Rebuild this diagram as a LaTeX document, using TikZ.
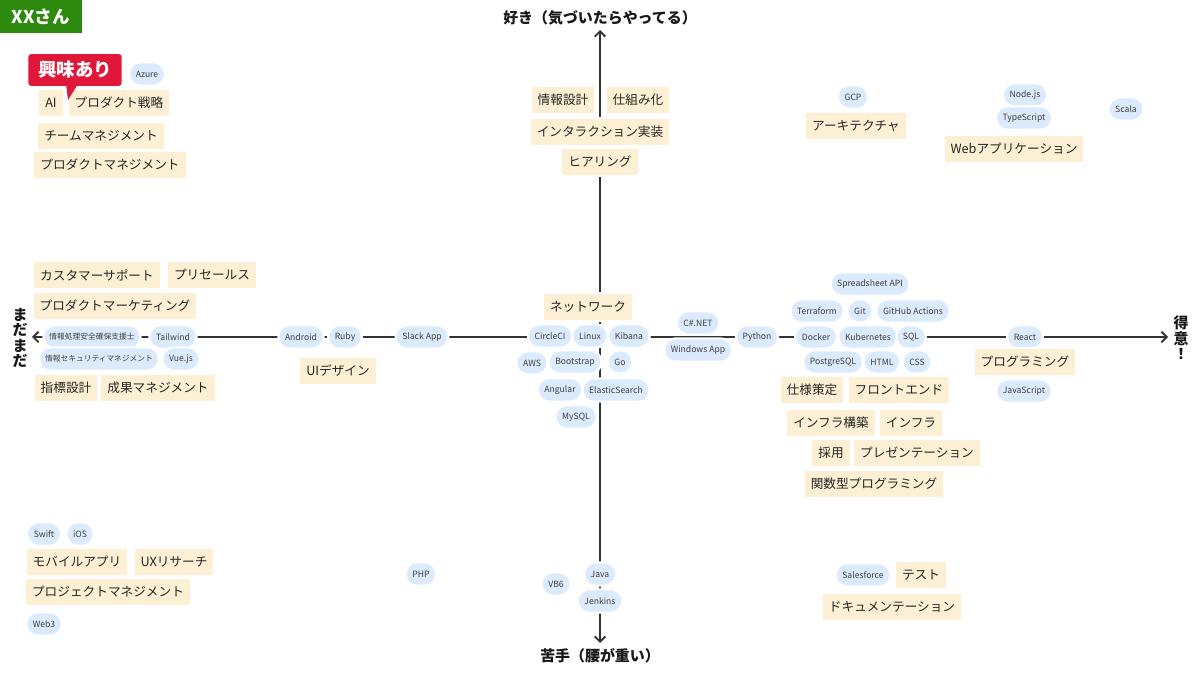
\documentclass[tikz,border=0pt]{standalone}
\usepackage{fontspec}
\setmainfont{Noto Sans CJK JP}
\usetikzlibrary{arrows.meta,positioning}
\definecolor{tagbg}{HTML}{FCEFD3}
\definecolor{pillbg}{HTML}{DCEAFD}
\definecolor{kyomired}{HTML}{E1173A}
\definecolor{titlegreen}{HTML}{2E8A0E}
\definecolor{axisgray}{HTML}{333333}

\begin{document}
\begin{tikzpicture}[x={(0.02cm,0)},y={(0,-0.02cm)},
tag/.style={fill=tagbg,draw=white,line width=1.2pt,minimum height=16pt,inner xsep=4pt,inner ysep=0pt,
  font=\fontsize{7.2}{8}\selectfont,text=black!85},
pill/.style={fill=pillbg,draw=white,line width=1.2pt,rounded corners=6.5pt,minimum height=13.3pt,inner xsep=3.8pt,inner ysep=0pt,
  font=\fontsize{4.9}{5.5}\selectfont,text=black!75},
jpill/.style={pill,inner xsep=3.4pt,font=\fontsize{4.4}{5}\selectfont},
axis/.style={line width=1.1pt,draw=axisgray},
axislabel/.style={font=\bfseries\fontsize{8.5}{8.8}\selectfont,inner sep=0pt,text=black!90}]
\useasboundingbox (0,0) rectangle (1200,675);

% title
\node[fill=titlegreen,text=white,font=\bfseries\fontsize{10}{11}\selectfont,minimum width=46.5pt,minimum height=18.7pt,inner sep=0pt] (title) at (41,16.5) {XXさん};

% axes
\node[axislabel] (like) at (600,18) {好き（気づいたらやってる）};
\node[axislabel] (weak) at (600,656) {苦手（腰が重い）};
\node[axislabel,align=center] (notyet) at (20,338) {ま\\だ\\ま\\だ};
\node[axislabel,align=center] (good) at (1181,338) {得\\意\\！};
\coordinate (ytop) at (600,30);
\coordinate (ybot) at (600,643);
\coordinate (xleft) at (32,337);
\coordinate (xright) at (1168,337);
\draw[axis,{Straight Barb[length=3pt,width=6pt]}-{Straight Barb[length=3pt,width=6pt]}] (ybot) -- (ytop);
\draw[axis,{Straight Barb[length=3pt,width=6pt]}-{Straight Barb[length=3pt,width=6pt]}] (xleft) -- (xright);

% upper left
\node[pill] (azure) at (147,74) {Azure};
\node[tag] (ai) at (51,103) {AI};
\node[tag] (pstrat) at (119,103) {プロダクト戦略};
\node[tag] (teamm) at (101,136) {チームマネジメント};
\node[tag] (prodm) at (110,165) {プロダクトマネジメント};

% upper center
\node[tag] (ia) at (563,100) {情報設計};
\node[tag] (shikumi) at (638,100) {仕組み化};
\node[tag] (interact) at (600,132) {インタラクション実装};
\node[tag] (hearing) at (600,162) {ヒアリング};

% upper right
\node[pill] (gcp) at (853,97) {GCP};
\node[tag] (arch) at (856,126) {アーキテクチャ};
\node[pill] (node) at (1025,95) {Node.js};
\node[pill] (ts) at (1024,118) {TypeScript};
\node[tag] (webapp) at (1014,149) {Webアプリケーション};
\node[pill] (scala) at (1126,109) {Scala};

% left middle
\node[tag] (cs) at (97,275) {カスタマーサポート};
\node[tag] (presales) at (212,275) {プリセールス};
\node[tag] (pmkt) at (115,306) {プロダクトマーケティング};
\node[jpill] (ipa1) at (92,337) {情報処理安全確保支援士};
\node[pill] (tailwind) at (173,337) {Tailwind};
\node[jpill] (ipa2) at (99,359) {情報セキュリティマネジメント};
\node[pill] (vue) at (181,359) {Vue.js};
\node[tag] (kpi) at (66,388) {指標設計};
\node[tag] (seika) at (158,388) {成果マネジメント};
\node[pill] (android) at (301,337) {Android};
\node[pill] (ruby) at (345,337) {Ruby};
\node[pill] (slack) at (422,337) {Slack App};
\node[tag] (uid) at (338,371) {UIデザイン};

% center
\node[tag] (network) at (588,307) {ネットワーク};
\node[pill] (circleci) at (550,336) {CircleCI};
\node[pill] (linux) at (590,336) {Linux};
\node[pill] (kibana) at (629,336) {Kibana};
\node[pill] (aws) at (532,363) {AWS};
\node[pill] (bootstrap) at (575,362) {Bootstrap};
\node[pill] (go) at (620,362) {Go};
\node[pill] (angular) at (560,390) {Angular};
\node[pill] (es) at (616,390) {ElasticSearch};
\node[pill] (mysql) at (576,417) {MySQL};

% right middle
\node[pill] (csharp) at (698,323) {C\#.NET};
\node[pill] (winapp) at (698,350) {Windows App};
\node[pill] (python) at (757,337) {Python};
\node[pill] (sheet) at (870,284) {Spreadsheet API};
\node[pill] (terraform) at (817,311) {Terraform};
\node[pill] (git) at (860,311) {Git};
\node[pill] (gha) at (913,311) {GitHub Actions};
\node[pill] (docker) at (816,337) {Docker};
\node[pill] (k8s) at (868,337) {Kubernetes};
\node[pill] (sql) at (911,337) {SQL};
\node[pill] (pg) at (833,362) {PostgreSQL};
\node[pill] (html) at (882,362) {HTML};
\node[pill] (css) at (917,362) {CSS};
\node[tag] (spec) at (812,390) {仕様策定};
\node[tag] (front) at (899,390) {フロントエンド};
\node[tag] (infra1) at (831,423) {インフラ構築};
\node[tag] (infra2) at (911,423) {インフラ};
\node[tag] (hire) at (831,453) {採用};
\node[tag] (pres) at (917,453) {プレゼンテーション};
\node[tag] (fp) at (874,484) {関数型プログラミング};
\node[pill] (react) at (1025,337) {React};
\node[tag] (prog) at (1025,362) {プログラミング};
\node[pill] (js) at (1024,391) {JavaScript};

% lower left
\node[pill] (swift) at (44,534) {Swift};
\node[pill] (ios) at (80,534) {iOS};
\node[tag] (mobile) at (77,562) {モバイルアプリ};
\node[tag] (uxr) at (174,562) {UXリサーチ};
\node[tag] (projm) at (108,592) {プロジェクトマネジメント};
\node[pill] (web3) at (44,624) {Web3};

% lower center and right
\node[pill] (php) at (421,574) {PHP};
\node[pill] (vb6) at (556,584) {VB6};
\node[pill] (java) at (600,574) {Java};
\node[pill] (jenkins) at (600,601) {Jenkins};
\node[pill] (sf) at (863,575) {Salesforce};
\node[tag] (test) at (921,575) {テスト};
\node[tag] (doc) at (892,607) {ドキュメンテーション};

% callout on top
\fill[kyomired] (66,84) -- (78,84) -- (68,100) -- cycle;
\node[fill=kyomired,text=white,rounded corners=1.5pt,font=\bfseries\fontsize{10.5}{11}\selectfont,minimum width=53pt,minimum height=18pt,inner sep=0pt] (kyomi) at (75,70) {興味あり};
\end{tikzpicture}
\end{document}
